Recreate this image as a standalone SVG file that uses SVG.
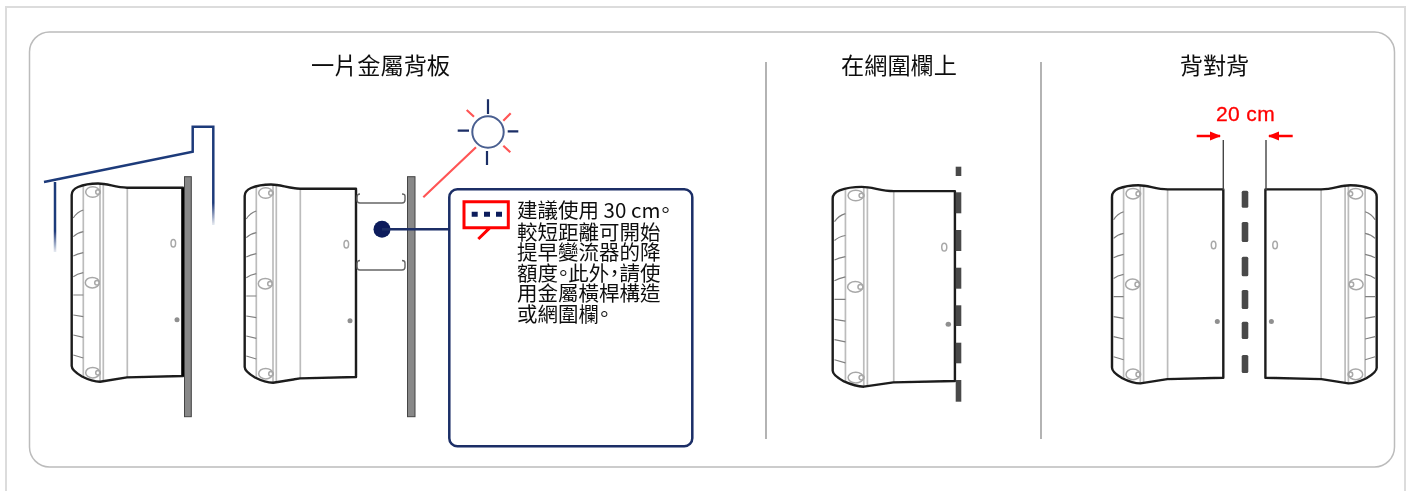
<svg xmlns="http://www.w3.org/2000/svg" width="1412" height="491" viewBox="0 0 1412 491">
<style>
text{font-family:"Liberation Sans","Noto Sans CJK TC",sans-serif;fill:#111}
.cjk{font-family:"Noto Sans CJK TC","Liberation Sans",sans-serif}
.title{font-size:23.2px;text-anchor:middle}
.body{font-size:20.5px}
.halt{font-feature-settings:"halt"}
.o{fill:none;stroke:#1c1c1c;stroke-width:2.4;stroke-linejoin:round;vector-effect:non-scaling-stroke}
.g{fill:none;stroke:#a8a8a8;stroke-width:1.5;vector-effect:non-scaling-stroke}
.g2{fill:none;stroke:#bcbcbc;stroke-width:1.7;vector-effect:non-scaling-stroke}
.f{fill:none;stroke:#808080;stroke-width:1.2;vector-effect:non-scaling-stroke}
.ray{fill:none;stroke:#1a2d66;stroke-width:2.2}
.rr{fill:none;stroke:#f55;stroke-width:2.2}
.plate{fill:#888;stroke:#444;stroke-width:1}
.fence{fill:#4a4a4a}
.div{stroke:#808080;stroke-width:1.2}
.brk{fill:none;stroke:#666;stroke-width:1.4}
.dim{stroke:#444;stroke-width:1.4}
</style>
<defs>
<filter id="soft" x="-2%" y="-2%" width="104%" height="104%"><feGaussianBlur stdDeviation="0.35"/></filter>
<linearGradient id="fa" gradientUnits="userSpaceOnUse" x1="0" y1="200" x2="0" y2="252"><stop offset="0.6" stop-color="#1f3a7a"/><stop offset="1" stop-color="#1f3a7a" stop-opacity="0.1"/></linearGradient>
<linearGradient id="fb" gradientUnits="userSpaceOnUse" x1="0" y1="170" x2="0" y2="225"><stop offset="0.6" stop-color="#1f3a7a"/><stop offset="1" stop-color="#1f3a7a" stop-opacity="0.1"/></linearGradient>
<marker id="ah" markerWidth="12" markerHeight="10" refX="10" refY="5" orient="auto" markerUnits="userSpaceOnUse"><path d="M0,0.500L11,5L0,9.500z" fill="#f00"/></marker>
<g id="inv">
<path class="g2" d="M83.3,186V377M100,184V381M103.3,184V381M127.3,188V377"/>
<ellipse class="g" cx="92.7" cy="192" rx="7" ry="5.300"/><circle class="g" cx="98" cy="192" r="2.300"/>
<ellipse class="g" cx="92.3" cy="282.7" rx="7" ry="5.300"/><circle class="g" cx="97" cy="282.7" r="2.300"/>
<ellipse class="g" cx="92.7" cy="372.7" rx="7" ry="5.300"/><circle class="g" cx="98" cy="372.7" r="2.300"/>
<path class="f" d="M73.3,218Q77,212 83.3,210M73.3,236.7Q77,233 83.3,231.700M73.3,256Q77,254 83.3,252.700M73.3,276.700Q77,274 83.3,272.700M73.3,295H83.3M73.3,315L83.3,316.700M73.3,335L83.3,337.300M73.3,355L83.3,358"/>
<ellipse class="g" cx="173.3" cy="243.3" rx="2.300" ry="3.800"/>
<circle cx="177" cy="319.7" r="2.500" fill="#8f8f8f"/>
<path class="o" d="M183,187.700H127.300C115,187.500 108,183.500 98,183.500C90,183.500 84,184.500 78,187C73.500,189 71.700,191 71.700,195V366C71.700,370 76,373 82,376.500C88,379.500 94,381.700 100,381.700L127,377.400L183,376Z"/>
</g>
</defs>

<g id="page-frame">
<path d="M6,491V7H1405V491" fill="none" stroke="#dcdcdc" stroke-width="2"/>
<rect x="29.500" y="32" width="1365" height="435" rx="20" fill="#fff" stroke="#bcbcbc" stroke-width="1.500"/>
</g>

<g filter="url(#soft)">
<g id="titles">
<text class="title cjk" x="380.500" y="74">一片金屬背板</text>
<text class="title cjk" x="899" y="74">在網圍欄上</text>
<text class="title cjk" x="1214.500" y="74">背對背</text>
</g>

<g id="dividers">
<line class="div" x1="766" y1="62" x2="766" y2="439"/>
<line class="div" x1="1041" y1="62" x2="1041" y2="439"/>
</g>

<g id="roof">
<path d="M44,182L192.700,151.700V126.700H213.300V170" fill="none" stroke="#1f3a7a" stroke-width="2.500"/>
<path d="M213.300,170V225" fill="none" stroke="url(#fb)" stroke-width="2.500"/>
<path d="M55,182V252" fill="none" stroke="url(#fa)" stroke-width="2.500"/>
</g>

<g id="inverter-1"><use href="#inv"/><line x1="183" y1="188" x2="183" y2="376" stroke="#000" stroke-width="3.500"/></g>
<g id="plate-1"><rect class="plate" x="184.500" y="176.700" width="6.800" height="240"/></g>

<g id="inverter-2"><use href="#inv" transform="translate(173,1)"/></g>
<g id="brackets">
<path class="brk" d="M360,194Q357,194 357,197V200Q357,203 360,203H402Q405,203 405,200V196Q405,194 402,194"/>
<path class="brk" d="M360,260.500Q357,260.500 357,263.500V267Q357,270 360,270H402Q405,270 405,267V263Q405,260.500 402,260.500"/>
</g>
<g id="plate-2"><rect class="plate" x="407.500" y="176.700" width="7.500" height="240"/></g>

<g id="sun">
<circle cx="488" cy="132" r="15.700" fill="#fff" stroke="#4a5f90" stroke-width="2"/>
<path class="ray" d="M488,99.300V114M487,151V165M457.700,130.700H469M507.700,131.300H518.300"/>
<path class="rr" d="M466.700,110L474,116.700M503.300,120.700L510.700,113.300M503.300,145.700L510.300,152.300M476,147.300L423.300,197.300"/>
</g>

<g id="callout">
<rect x="449.300" y="189.300" width="243" height="257" rx="8" fill="#fff" stroke="#1a2d66" stroke-width="2.500"/>
<path d="M464,201.700H508.300V227.700H490L478.300,239L490,227.700H464Z" fill="#fff" stroke="#f00" stroke-width="3"/>
<path d="M471.700,211.700h6v5h-6zM484,211.700h6v5h-6zM496,211.700h6v5h-6z" fill="#0b1f5c"/>
<text class="body cjk" x="517" y="218">建議使用 30 cm<tspan class="halt">。</tspan></text>
<text class="body cjk" x="517" y="239.500">較短距離可開始</text>
<text class="body cjk" x="517" y="260">提早變流器的降</text>
<text class="body cjk" x="517" y="281">額度<tspan class="halt">。</tspan>此外<tspan class="halt">，</tspan>請使</text>
<text class="body cjk" x="517" y="301">用金屬橫桿構造</text>
<text class="body cjk" x="517" y="322">或網圍欄<tspan class="halt">。</tspan></text>
</g>

<g id="connectors">
<circle cx="382" cy="229.300" r="8.500" fill="#0b1f5c"/>
<line x1="382" y1="229.300" x2="449.300" y2="229.300" stroke="#1a2d66" stroke-width="2.500"/>
</g>

<g id="inverter-3"><use href="#inv" transform="translate(832.700,186.700) scale(1.098,1.008) translate(-71.700,-183.300)"/></g>
<g id="fence-3" class="fence">
<rect x="955.700" y="166.700" width="5.600" height="9.300"/><rect x="955.700" y="192.300" width="5.600" height="21"/><rect x="955.700" y="230" width="5.600" height="21"/><rect x="955.700" y="267.700" width="5.600" height="21"/><rect x="955.700" y="305.300" width="5.600" height="20.700"/><rect x="955.700" y="342.700" width="5.600" height="20.600"/><rect x="955.700" y="380" width="5.600" height="21.700"/>
</g>

<g id="inverter-4"><use href="#inv" transform="translate(1040.300,1.700)"/></g>
<g id="inverter-5"><use href="#inv" transform="translate(1448.400,1.700) scale(-1,1)"/></g>
<g id="fence-4" class="fence">
<rect x="1241.700" y="190.700" width="6.600" height="17" rx="1.500"/><rect x="1241.700" y="222" width="6.600" height="20" rx="1.500"/><rect x="1241.700" y="256.700" width="6.600" height="19.600" rx="1.500"/><rect x="1241.700" y="290" width="6.600" height="19" rx="1.500"/><rect x="1241.700" y="321.700" width="6.600" height="17.300" rx="1.500"/><rect x="1241.700" y="355" width="6.600" height="18" rx="1.500"/>
</g>
<g id="dimension">
<line class="dim" x1="1223.300" y1="140" x2="1223.300" y2="190"/>
<line class="dim" x1="1266" y1="140" x2="1266" y2="190"/>
<line x1="1196.700" y1="136" x2="1220" y2="136" stroke="#f00" stroke-width="2.500" marker-end="url(#ah)"/>
<line x1="1292.700" y1="136" x2="1269" y2="136" stroke="#f00" stroke-width="2.500" marker-end="url(#ah)"/>
<text x="1245.500" y="121" font-size="21" letter-spacing="0.4" text-anchor="middle" style="fill:#f00;stroke:#f00;stroke-width:0.3">20 cm</text>
</g>
</g>
</svg>
